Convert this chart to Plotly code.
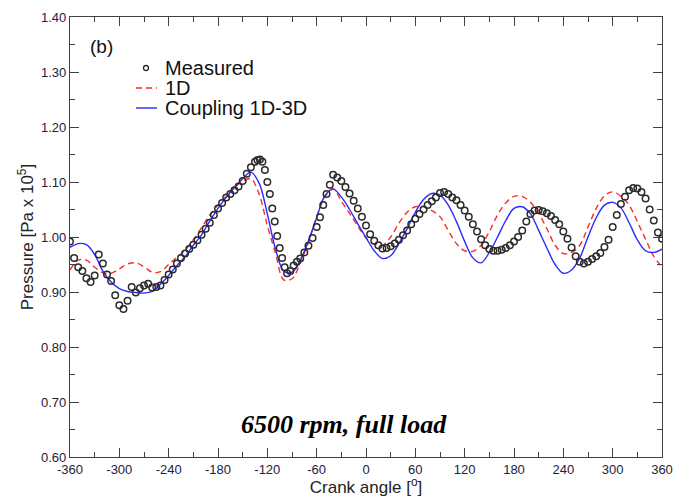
import plotly.graph_objects as go

# ---------------- data ----------------
angle_model = list(range(-360, 361, 10))

p_1d = [0.940, 0.958, 0.958, 0.945, 0.935, 0.934, 0.942, 0.951, 0.953, 0.946,
        0.936, 0.937, 0.950, 0.963, 0.976, 0.995, 1.017, 1.040, 1.058, 1.074,
        1.090, 1.101, 1.106, 1.078, 1.021, 0.970, 0.922, 0.924, 0.953, 0.990,
        1.037, 1.073, 1.088, 1.065, 1.043, 1.020, 0.998, 0.987, 0.985, 1.000,
        1.025, 1.045, 1.055, 1.055, 1.048, 1.037, 1.012, 0.988, 0.975, 0.974,
        0.985, 1.010, 1.040, 1.062, 1.074, 1.074, 1.063, 1.043, 1.015, 0.985,
        0.970, 0.972, 0.985, 1.018, 1.052, 1.075, 1.082, 1.074, 1.058, 1.028,
        0.996, 0.965, 0.945]

p_coupling = [0.981, 0.988, 0.986, 0.968, 0.938, 0.918, 0.906, 0.901, 0.899, 0.898,
              0.901, 0.914, 0.930, 0.948, 0.964, 0.985, 1.004, 1.029, 1.052, 1.072,
              1.090, 1.106, 1.118, 1.098, 1.042, 0.978, 0.938, 0.936, 0.958, 0.993,
              1.035, 1.075, 1.087, 1.073, 1.050, 1.024, 0.999, 0.975, 0.961, 0.966,
              0.988, 1.015, 1.045, 1.068, 1.079, 1.076, 1.058, 1.028, 0.992, 0.962,
              0.953, 0.972, 1.000, 1.030, 1.052, 1.055, 1.042, 1.012, 0.980, 0.950,
              0.934, 0.940, 0.962, 1.000, 1.035, 1.058, 1.063, 1.053, 1.026, 0.995,
              0.975, 0.972, 0.978]

angle_meas = [-360, -355, -350, -345, -340, -335, -330, -325, -320, -315, -310, -305,
              -300, -295, -290, -285, -280, -275, -270, -265, -260, -255, -250, -245,
              -240, -235, -230, -225, -220, -215, -210, -205, -200, -195, -190, -185,
              -180, -175, -170, -165, -160, -155, -150, -145, -140, -135, -132,
              -129, -126, -123, -120, -117, -114, -111, -108, -105, -102, -99, -96,
              -92, -88, -84, -80, -75, -70, -65, -60, -56, -52, -48, -44, -40,
              -35, -30, -25, -20, -15, -10, -5, 0, 5, 10, 15, 20, 25, 30, 35, 40,
              45, 50, 55, 60, 65, 70, 75, 80, 85, 90, 95, 100, 105, 110, 115, 120,
              125, 130, 135, 140, 145, 150, 155, 160, 165, 170, 175, 180, 185, 190,
              195, 200, 205, 210, 215, 220, 225, 230, 235, 240, 245, 250, 255, 260,
              265, 270, 275, 280, 285, 290, 295, 300, 305, 310, 315, 320, 325, 330,
              335, 340, 345, 350, 355, 360]

p_meas = [0.992, 0.962, 0.945, 0.938, 0.925, 0.918, 0.930, 0.968, 0.952, 0.932, 0.920, 0.894,
          0.876, 0.869, 0.884, 0.909, 0.899, 0.907, 0.912, 0.915, 0.908, 0.909, 0.912, 0.922,
          0.932, 0.941, 0.952, 0.962, 0.970, 0.978, 0.986, 0.994, 1.004, 1.015, 1.026, 1.040,
          1.052, 1.062, 1.072, 1.078, 1.085, 1.092, 1.102, 1.115, 1.127, 1.137, 1.140,
          1.141, 1.137, 1.122, 1.100, 1.078, 1.052, 1.028, 1.002, 0.980, 0.962, 0.945, 0.934,
          0.938, 0.948, 0.955, 0.961, 0.972, 0.984, 0.998, 1.018, 1.036, 1.058, 1.078, 1.095, 1.113,
          1.108, 1.102, 1.091, 1.079, 1.066, 1.052, 1.037, 1.021, 1.005, 0.993, 0.985, 0.979, 0.980, 0.983, 0.988, 0.995,
          1.003, 1.012, 1.023, 1.033, 1.042, 1.050, 1.058, 1.065, 1.072, 1.080, 1.082, 1.078, 1.072, 1.067, 1.058, 1.048,
          1.037, 1.023, 1.010, 0.996, 0.985, 0.978, 0.975, 0.975, 0.977, 0.980, 0.985, 0.992, 1.000, 1.012,
          1.028, 1.042, 1.048, 1.049, 1.047, 1.043, 1.038, 1.031, 1.023, 1.010, 0.997, 0.981, 0.965, 0.955,
          0.952, 0.955, 0.960, 0.965, 0.971, 0.982, 0.995, 1.018, 1.040, 1.060, 1.073, 1.085, 1.089, 1.088,
          1.082, 1.070, 1.050, 1.030, 1.008, 0.997]

x_ticks = list(range(-360, 361, 60))
y_ticks = [0.60, 0.70, 0.80, 0.90, 1.00, 1.10, 1.20, 1.30, 1.40]
y_tick_labels = ["0.60", "0.70", "0.80", "0.90", "1.00", "1.10", "1.20", "1.30", "1.40"]

# ---------------- figure ----------------
fig = go.Figure()

fig.add_trace(go.Scatter(
    x=angle_model, y=p_1d, mode="lines", name="1D",
    line=dict(color="#ff2a2a", width=1.4, dash="6px,4px", shape="spline", smoothing=1.0),
))
fig.add_trace(go.Scatter(
    x=angle_model, y=p_coupling, mode="lines", name="Coupling 1D-3D",
    line=dict(color="#2a2aff", width=1.4, shape="spline", smoothing=1.0),
))
fig.add_trace(go.Scatter(
    x=angle_meas, y=p_meas, mode="markers", name="Measured",
    marker=dict(symbol="circle-open", size=6.5, color="#2b2b2b", line=dict(width=1.5, color="#2b2b2b")),
))

tick_font = dict(family="Liberation Sans, Arial, sans-serif", size=13, color="#22223a")
axis_common = dict(
    showline=True, linecolor="#404040", linewidth=1.3, mirror="ticks",
    ticks="inside", ticklen=9, tickwidth=1.3, tickcolor="#404040",
    showgrid=False, zeroline=False, tickfont=tick_font,
)

fig.update_xaxes(
    range=[-360, 360], tickvals=x_ticks, ticktext=[str(v) for v in x_ticks],
    minor=dict(dtick=30, tick0=-360, ticks="inside", ticklen=5, tickwidth=1.3, tickcolor="#404040"),
    title=dict(text="Crank angle [<sup>o</sup>]", standoff=5,
               font=dict(family="Liberation Sans, Arial, sans-serif", size=17, color="#222")),
    **axis_common,
)
fig.update_yaxes(
    range=[0.60, 1.40], tickvals=y_ticks, ticktext=y_tick_labels,
    minor=dict(dtick=0.05, tick0=0.6, ticks="inside", ticklen=5, tickwidth=1.3, tickcolor="#404040"),
    title=dict(text="Pressure [Pa x 10<sup>5</sup>]", standoff=2,
               font=dict(family="Liberation Sans, Arial, sans-serif", size=17, color="#222")),
    **axis_common,
)

# legend drawn manually (paper coordinates)
W, H = 592.0, 440.0
def px(x):
    return (x - 70) / W
def py(y):
    return 1 - (y - 17) / H

leg_font = dict(family="Liberation Sans, Arial, sans-serif", size=20, color="#111")
annotations = [
    dict(x=px(88), y=py(46), xref="paper", yref="paper", text="(b)", showarrow=False,
         xanchor="left", yanchor="middle", font=dict(family="Liberation Sans, Arial, sans-serif", size=19, color="#111")),
    dict(x=px(163), y=py(68), xref="paper", yref="paper", text="Measured", showarrow=False,
         xanchor="left", yanchor="middle", font=leg_font),
    dict(x=px(163), y=py(88), xref="paper", yref="paper", text="1D", showarrow=False,
         xanchor="left", yanchor="middle", font=leg_font),
    dict(x=px(163), y=py(108), xref="paper", yref="paper", text="Coupling 1D-3D", showarrow=False,
         xanchor="left", yanchor="middle", font=leg_font),
    dict(x=px(344), y=py(424), xref="paper", yref="paper", text="<b><i>6500 rpm, full load</i></b>",
         showarrow=False, xanchor="center", yanchor="middle",
         font=dict(family="Liberation Serif, Times New Roman, serif", size=26, color="#000")),
]
shapes = [
    dict(type="circle", xref="paper", yref="paper", xsizemode="pixel", ysizemode="pixel",
         xanchor=px(146), yanchor=py(68), x0=-2.5, x1=2.5, y0=-2.5, y1=2.5,
         line=dict(color="#2b2b2b", width=1.3)),
    dict(type="line", xref="paper", yref="paper", x0=px(136), x1=px(157), y0=py(88), y1=py(88),
         line=dict(color="#ff2a2a", width=1.4, dash="6px,4px")),
    dict(type="line", xref="paper", yref="paper", x0=px(136), x1=px(157), y0=py(108), y1=py(108),
         line=dict(color="#2a2aff", width=1.4)),
]

fig.update_layout(
    width=677, height=497,
    margin=dict(l=70, r=15, t=17, b=40, autoexpand=False),
    paper_bgcolor="white", plot_bgcolor="white",
    showlegend=False,
    annotations=annotations, shapes=shapes,
)

fig.write_html("out.html", config={"displayModeBar": False},
               post_script="document.body.style.margin='0';document.body.style.padding='0';")
